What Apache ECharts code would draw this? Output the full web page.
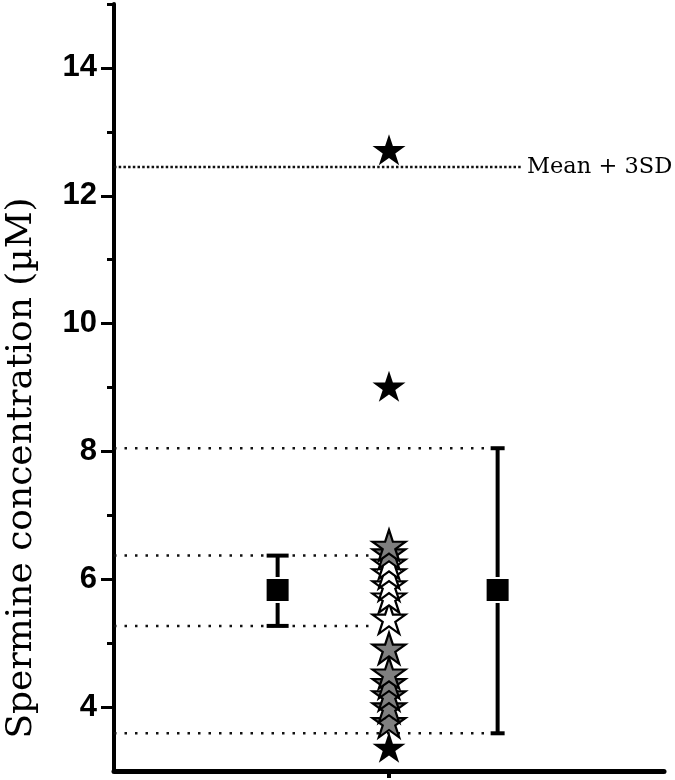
<!DOCTYPE html>
<html>
<head>
<meta charset="utf-8">
<script src="https://cdn.jsdelivr.net/npm/echarts@6/dist/echarts.min.js"></script>
<style>
html,body{margin:0;padding:0;background:#fff;}
#chart{width:675px;height:780px;}
</style>
</head>
<body>
<div id="chart"></div>
<script>
// ---- data ----
var yMajorTicks = [4, 6, 8, 10, 12, 14];
var yMinorTicks = [5, 7, 9, 11, 13, 15];
var starX = 2;
var starValues = [3.37, 3.77, 4.00, 4.19, 4.38, 4.53, 4.92, 5.39, 5.72, 5.91, 6.10, 6.25, 6.41, 6.53, 9.02, 12.72];
var starKinds  = ['black','grey','grey','grey','grey','grey','grey','white','white','white','white','white','grey','grey','black','black'];
var meanX   = [1.19, 2.79];
var meanVal = [5.83, 5.83];
var errLow  = [5.27, 3.59];
var errHigh = [6.37, 8.05];
var refY    = [12.45, 8.05, 6.37, 5.27, 3.59];
var refXEnd = [2.96, 2.73, 1.88, 1.88, 2.73];
var refLabel = 'Mean + 3SD';
var yName = 'Spermine concentration (\u00b5M)';

// ---- styles ----
var starPath = 'path://M0,-1 L0.2245,-0.309 L0.951,-0.309 L0.363,0.118 L0.588,0.809 L0,0.382 L-0.588,0.809 L-0.363,0.118 L-0.951,-0.309 L-0.2245,-0.309 Z';
var starFill = {black:'#000000', grey:'#7f7f7f', white:'#ffffff'};
var capWidths = [22, 14];

var series = [];

refY.forEach(function (y, i) {
  var top = i === 0;
  series.push({
    type: 'line',
    silent: true,
    symbol: 'none',
    z: 1,
    lineStyle: {color: '#111', width: 2.5, type: top ? [2.5, 2.2] : [2.5, 8], cap: 'butt'},
    data: [[0, y], [refXEnd[i], y]],
    label: {show: false},
    endLabel: top ? {
      show: true,
      formatter: refLabel,
      fontFamily: 'DejaVu Serif',
      fontSize: 22.5,
      color: '#000',
      distance: 6
    } : {show: false}
  });
});

series.push({
  type: 'custom',
  z: 3,
  silent: true,
  data: meanX.map(function (x, i) { return [x, errLow[i], errHigh[i]]; }),
  renderItem: function (params, api) {
    var lo = api.coord([api.value(0), api.value(1)]);
    var hi = api.coord([api.value(0), api.value(2)]);
    var cw = capWidths[params.dataIndex] / 2;
    var st = {stroke: '#000', lineWidth: 4};
    return {
      type: 'group',
      children: [
        {type: 'line', shape: {x1: lo[0], y1: lo[1], x2: hi[0], y2: hi[1]}, style: st},
        {type: 'line', shape: {x1: lo[0] - cw, y1: lo[1], x2: lo[0] + cw, y2: lo[1]}, style: st},
        {type: 'line', shape: {x1: hi[0] - cw, y1: hi[1], x2: hi[0] + cw, y2: hi[1]}, style: st}
      ]
    };
  }
});

series.push({
  type: 'scatter',
  z: 4,
  symbol: 'rect',
  symbolSize: 24,
  itemStyle: {color: '#000', borderColor: '#fff', borderWidth: 2, opacity: 1},
  data: meanX.map(function (x, i) { return [x, meanVal[i]]; })
});

series.push({
  type: 'scatter',
  z: 5,
  symbol: starPath,
  symbolSize: [33, 31],
  data: starValues.map(function (v, i) {
    var k = starKinds[i];
    return {
      value: [starX, v],
      itemStyle: {
        color: starFill[k],
        borderColor: '#000',
        borderWidth: k === 'black' ? 0 : 2.2,
        opacity: 1
      }
    };
  })
});

var chart = echarts.init(document.getElementById('chart'), null, {renderer: 'canvas'});
chart.setOption({
  animation: false,
  backgroundColor: '#fff',
  grid: {left: 114, right: 11, top: 4, bottom: 9, containLabel: false},
  xAxis: {
    type: 'value', min: 0, max: 4,
    axisLine: {show: true, lineStyle: {color: '#000', width: 5}},
    axisTick: {show: true, customValues: [starX], length: 7, lineStyle: {color: '#000', width: 4}},
    axisLabel: {show: false},
    splitLine: {show: false}
  },
  yAxis: [{
    type: 'value', min: 3, max: 15, position: 'left',
    axisLine: {show: true, lineStyle: {color: '#000', width: 4}},
    axisTick: {show: true, customValues: yMajorTicks, length: 13, lineStyle: {color: '#000', width: 3}},
    axisLabel: {show: true, customValues: yMajorTicks, margin: 17, fontFamily: 'Liberation Sans', fontWeight: 'bold', fontSize: 31, color: '#000'},
    splitLine: {show: false}
  }, {
    type: 'value', min: 3, max: 15, position: 'left', offset: 0,
    axisLine: {show: false},
    axisTick: {show: true, customValues: yMinorTicks, length: 7, lineStyle: {color: '#000', width: 3}},
    axisLabel: {show: false},
    splitLine: {show: false}
  }],
  graphic: [{
    type: 'text',
    x: 22, y: 468,
    rotation: Math.PI / 2,
    style: {
      text: yName,
      font: '36px "DejaVu Serif"',
      fill: '#000',
      textAlign: 'center',
      textVerticalAlign: 'middle'
    }
  }],
  series: series
});
</script>
</body>
</html>
